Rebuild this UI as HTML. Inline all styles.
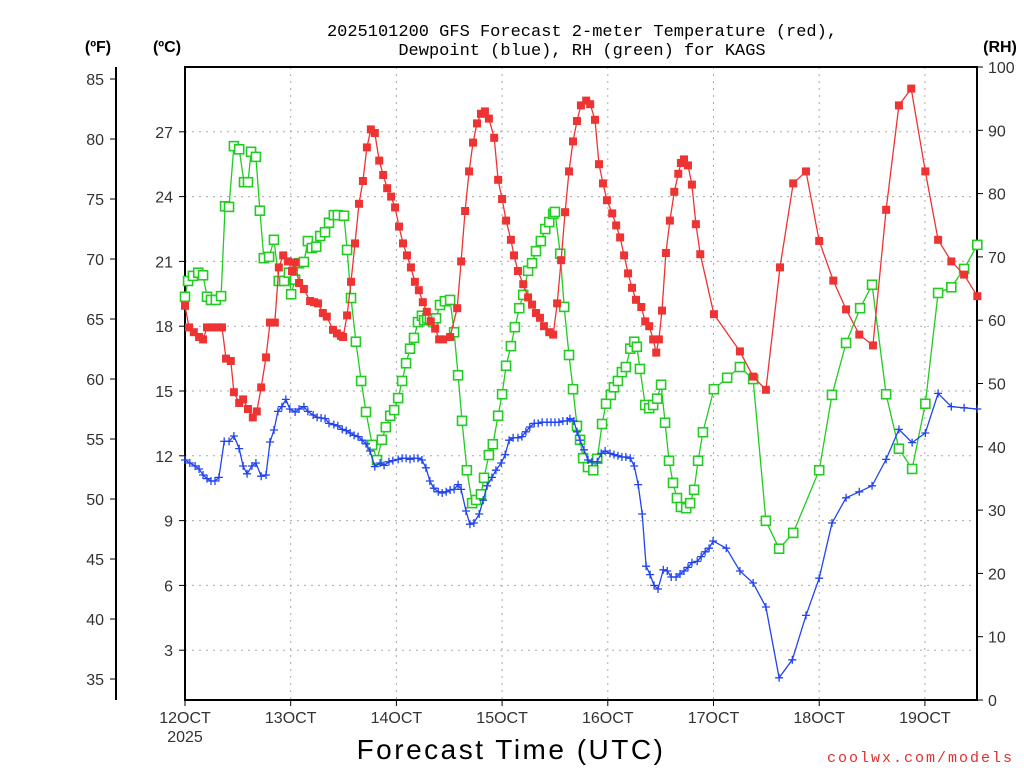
<!DOCTYPE html>
<html><head><meta charset="utf-8"><style>
html,body{margin:0;padding:0;background:#fff;}
svg{display:block;font-family:"Liberation Sans","DejaVu Sans",sans-serif;}
</style></head><body>
<svg id="chart" width="1024" height="768" viewBox="0 0 1024 768" xmlns="http://www.w3.org/2000/svg">
<rect width="1024" height="768" fill="#fff"/>
<text x="582" y="36" text-anchor="middle" font-size="17" fill="#000" font-family="Liberation Mono, monospace">2025101200 GFS Forecast 2-meter Temperature (red),</text>
<text x="582" y="55" text-anchor="middle" font-size="17" fill="#000" font-family="Liberation Mono, monospace">Dewpoint (blue), RH (green) for KAGS</text>
<text x="98" y="52" text-anchor="middle" font-size="16" font-weight="bold">(ºF)</text>
<text x="167" y="52" text-anchor="middle" font-size="16" font-weight="bold">(ºC)</text>
<text x="1000" y="52" text-anchor="middle" font-size="16" font-weight="bold">(RH)</text>
<text x="511" y="759" text-anchor="middle" font-size="28" letter-spacing="2.5">Forecast Time (UTC)</text>
<text x="1014" y="762" text-anchor="end" font-size="15" fill="#e03030" letter-spacing="2" font-family="Liberation Mono, monospace">coolwx.com/models</text>
<g id="grid"></g><g id="axes"></g><g id="series"></g>
</svg>
<script>
// ---- data ----
const days = ["12OCT","13OCT","14OCT","15OCT","16OCT","17OCT","18OCT","19OCT"];
const fTicks = [35,40,45,50,55,60,65,70,75,80,85];
const cTicks = [3,6,9,12,15,18,21,24,27];
const rhTicks = [0,10,20,30,40,50,60,70,80,90,100];
const tempHours = [0,0.9,2.0,3.2,4.1,5.0,6.4,7.5,8.4,9.3,10.4,11.1,12.3,13.2,14.3,15.4,16.3,17.3,18.4,19.3,20.4,21.3,22.3,23.4,24.3,25.0,25.9,27.0,28.4,29.3,30.2,31.3,32.2,33.6,34.5,35.4,35.9,36.8,37.7,38.6,39.5,40.4,41.3,42.2,43.1,44.1,45.0,45.9,46.8,47.7,48.6,49.5,50.4,51.3,52.2,53.1,54.0,54.9,55.8,56.8,57.7,58.6,60.2,61.8,62.7,63.6,64.5,65.4,66.3,67.2,68.1,69.0,70.2,71.1,72.0,72.9,74.0,74.7,75.6,76.8,77.9,78.8,79.7,80.6,81.5,82.7,83.6,84.5,85.4,86.3,87.2,88.1,89.0,89.9,91.1,92.0,93.1,94.0,94.9,95.8,97.0,97.9,98.8,99.7,100.6,101.5,102.4,103.6,104.5,105.4,106.3,107.0,107.6,108.3,109.2,110.1,111.1,112.0,112.6,113.3,114.2,115.1,116.0,117.0,120.1,126.0,129.0,131.9,135.1,138.1,141.0,144.0,147.2,150.1,153.1,156.2,159.2,162.1,164.9,168.1,171.0,174.0,176.9,179.9];
const tempF = [66.1,64.3,63.9,63.5,63.3,64.3,64.3,64.3,64.3,61.7,61.5,58.9,58.0,58.3,57.5,56.8,57.3,59.3,61.8,64.7,64.7,69.3,70.3,69.8,69.0,69.7,68.0,67.5,66.5,66.4,66.3,65.5,65.2,64.1,63.8,63.6,63.5,65.3,68.1,71.3,74.6,76.5,79.3,80.8,80.5,78.2,77.0,75.9,75.2,74.3,72.7,71.3,70.3,69.3,68.1,67.4,66.4,65.6,64.8,64.2,63.3,63.3,63.5,65.9,69.8,74.0,77.3,79.7,81.3,82.1,82.3,81.7,80.1,76.6,75.0,73.2,71.6,70.3,69.0,67.9,66.8,66.2,65.5,65.1,64.4,63.9,63.7,66.3,69.9,73.9,77.3,79.8,81.5,82.8,83.2,82.9,81.6,77.9,76.3,74.9,73.8,72.8,71.8,70.3,68.8,67.6,66.6,66.0,64.8,64.4,63.3,62.2,63.3,65.7,70.5,73.2,75.6,77.1,78.0,78.3,77.8,76.2,72.9,70.4,65.4,62.3,60.2,59.1,69.3,76.3,77.3,71.5,68.2,65.8,63.7,62.8,74.1,82.8,84.2,77.3,71.6,69.8,68.7,66.9];
const rhHours = [0,0.7,1.8,3.0,4.1,5.0,5.9,7.0,8.2,9.1,10.0,11.1,12.3,13.4,14.3,15.0,16.1,17.0,17.9,19.1,20.2,21.3,22.5,23.6,24.1,25.0,25.9,27.0,27.9,28.8,29.8,30.7,31.8,32.7,33.8,34.7,36.1,36.8,37.7,38.8,40.0,41.1,42.5,43.6,44.7,45.6,46.6,47.5,48.4,49.3,50.2,51.1,52.0,52.9,53.8,54.3,55.0,55.6,56.3,57.0,57.9,59.0,60.2,61.1,62.0,62.9,64.0,65.2,66.1,67.2,67.9,69.0,69.9,71.1,72.0,72.9,74.0,74.9,75.9,76.8,77.9,78.8,79.7,80.8,81.8,82.7,83.6,84.0,85.2,86.1,87.2,88.1,89.0,89.7,90.4,91.5,92.7,93.6,94.7,95.6,96.7,97.4,98.3,99.2,100.1,101.1,102.0,102.6,103.3,104.5,105.4,106.3,107.2,108.1,109.0,109.9,110.8,111.7,112.6,113.8,114.7,115.6,116.5,117.6,120.1,123.1,126.0,129.0,131.9,134.9,138.1,144.0,146.9,150.1,153.3,156.0,159.2,162.1,165.1,168.1,171.0,174.0,176.9,179.9];
const rhValues = [63.7,66.2,67.0,67.5,67.1,63.7,63.2,63.2,63.8,78.0,77.9,87.5,87.0,81.8,81.8,86.6,85.8,77.3,69.8,70.0,72.7,66.2,66.2,67.5,64.1,66.4,69.0,69.2,72.5,71.4,71.6,73.3,73.9,75.4,76.6,76.6,76.5,71.1,63.5,56.6,50.4,45.5,40.3,37.9,41.1,43.1,44.9,45.8,47.7,50.4,53.2,55.5,57.2,59.7,60.7,60.0,60.3,60.2,59.7,60.3,62.4,63.0,63.2,58.1,51.3,44.1,36.3,31.1,31.6,32.5,35.1,38.7,40.4,44.9,48.3,52.8,55.9,58.9,61.9,64.0,67.8,69.0,70.9,72.5,74.4,75.5,76.8,77.1,70.5,62.1,54.5,49.1,43.3,41.1,38.2,36.8,36.3,38.1,43.6,46.8,48.2,49.4,50.4,51.8,52.6,55.5,56.6,55.8,52.3,46.6,46.1,46.6,47.6,49.8,43.8,37.8,34.3,31.9,30.5,30.3,31.1,33.2,37.8,42.3,49.1,50.9,52.6,50.7,28.3,23.9,26.4,36.3,48.2,56.4,61.9,65.6,48.3,39.7,36.5,46.8,64.3,65.2,68.1,71.9];
const dewHours = [0,1.1,2.3,3.2,4.1,5.0,5.9,6.8,7.7,8.9,10.0,11.1,12.3,13.2,14.1,15.2,16.1,17.3,18.4,19.3,20.2,21.1,22.0,22.9,23.8,25.0,25.9,27.0,27.9,29.1,30.0,30.9,31.8,32.7,33.8,34.7,35.7,36.6,37.5,38.4,39.3,40.2,41.1,42.0,43.1,44.3,45.2,46.3,47.2,48.4,49.3,50.2,51.1,52.0,52.9,53.8,54.7,55.6,56.5,57.5,58.4,59.3,60.2,61.1,62.0,62.7,63.8,64.7,65.6,66.8,67.7,68.6,69.7,70.6,71.8,72.7,73.6,74.5,75.6,76.5,77.4,78.3,79.3,80.2,81.1,82.2,83.1,84.0,84.9,85.8,86.8,87.4,88.3,89.0,89.7,90.6,91.5,92.4,93.6,94.5,95.4,96.5,97.4,98.3,99.2,100.1,101.1,102.0,102.9,103.8,104.7,105.6,106.5,107.4,108.6,109.5,110.4,111.5,112.4,113.3,114.2,115.1,116.3,117.2,118.1,119.0,119.9,122.9,126.0,129.0,131.9,134.9,137.9,141.0,144.0,146.9,150.1,153.1,156.0,159.2,162.1,165.1,168.1,171.0,174.0,176.9,179.9];
const dewF = [53.25,53.0,52.75,52.5,52.0,51.7,51.5,51.5,51.8,54.8,54.8,55.25,54.2,52.75,52.1,52.75,53.0,51.9,52.0,54.75,55.75,57.3,57.7,58.3,57.5,57.25,57.5,57.7,57.3,57.0,56.8,56.75,56.7,56.3,56.2,56.1,55.8,55.7,55.5,55.3,55.2,54.9,54.6,54.0,52.7,53.0,52.8,53.1,53.2,53.3,53.4,53.4,53.3,53.4,53.4,53.25,52.6,51.5,50.9,50.6,50.5,50.6,50.75,50.8,51.2,50.8,49.0,47.9,48.0,48.75,49.9,51.1,51.8,52.4,53.0,53.7,54.9,55.1,55.1,55.2,55.6,56.0,56.3,56.3,56.4,56.4,56.4,56.4,56.4,56.5,56.5,56.7,56.5,55.6,54.9,54.1,53.25,53.1,53.1,53.8,54.0,53.8,53.7,53.6,53.5,53.5,53.4,52.75,51.2,48.75,44.4,43.7,42.8,42.5,44.1,44.0,43.5,43.5,43.75,44.0,44.3,44.7,44.8,45.2,45.6,45.9,46.5,45.9,44.0,43.0,41.0,35.1,36.6,40.3,43.4,48.0,50.1,50.6,51.1,53.3,55.8,54.7,55.5,58.8,57.7,57.6,57.5];

// ---- scales ----
const L=185,R=977,T=67,B=700;
const xS = h => L + h*(105.7/24);
const yF = f => 79 + (85-f)*12;
const yC = c => yF(c*9/5+32);
const yRH = r => B - r*(B-T)/100;
const NS="http://www.w3.org/2000/svg";
function mk(tag, attrs, parent){const e=document.createElementNS(NS,tag);for(const k in attrs)e.setAttribute(k,attrs[k]);parent.appendChild(e);return e;}
const grid=document.getElementById('grid'), axes=document.getElementById('axes'), ser=document.getElementById('series');

// grid
cTicks.forEach(c=>{const g=mk('line',{x1:L,x2:R,y1:yC(c),y2:yC(c),stroke:'#aaa','stroke-dasharray':'2,5'},grid);

});
days.forEach((d,i)=>{if(i===0)return;const g=mk('line',{x1:xS(i*24),x2:xS(i*24),y1:T,y2:B,stroke:'#aaa','stroke-dasharray':'2,5'},grid);

});

// frame
const fr=mk('rect',{x:L,y:T,width:R-L,height:B-T,fill:'none',stroke:'#000','stroke-width':2},axes);


const fa=mk('line',{x1:116,x2:116,y1:67,y2:B,stroke:'#000','stroke-width':2},axes);



fTicks.forEach(f=>{const y=yF(f);
const t=mk('line',{x1:110,x2:116,y1:y,y2:y,stroke:'#000'},axes);


const tx=mk('text',{x:104,y:y+6,'text-anchor':'end','font-size':16,fill:'#333'},axes);tx.textContent=f;

});
cTicks.forEach(c=>{const y=yC(c);
const t=mk('line',{x1:179,x2:185,y1:y,y2:y,stroke:'#000'},axes);


const tx=mk('text',{x:173,y:y+6,'text-anchor':'end','font-size':16,fill:'#333'},axes);tx.textContent=c;

});
rhTicks.forEach(r=>{const y=yRH(r);
const t=mk('line',{x1:R,x2:R+6,y1:y,y2:y,stroke:'#000'},axes);


const tx=mk('text',{x:988,y:y+6,'text-anchor':'start','font-size':16,fill:'#333'},axes);tx.textContent=r;

});
days.forEach((d,i)=>{const x=xS(i*24);
const t=mk('line',{x1:x,x2:x,y1:B,y2:B+6,stroke:'#000'},axes);


const tx=mk('text',{x:x,y:723,'text-anchor':'middle','font-size':16,fill:'#333'},axes);tx.textContent=d;

});
const yr=mk('text',{x:L,y:742,'text-anchor':'middle','font-size':16,fill:'#333'},axes);yr.textContent='2025';



function line(hs,vs,yfn,color,name){
  const d=hs.map((h,i)=>(i?'L':'M')+xS(h).toFixed(1)+','+yfn(vs[i]).toFixed(1)).join('');
  const p=mk('path',{d:d,fill:'none',stroke:color,'stroke-width':1.3},ser);
  
  
}
// RH
line(rhHours,rhValues,yRH,'#22cc22','rh-line');
rhHours.forEach((h,i)=>{const m=mk('rect',{x:xS(h)-4.5,y:yRH(rhValues[i])-4.5,width:9,height:9,fill:'#fff',stroke:'#22cc22','stroke-width':1.6},ser);

});
// Dewpoint
line(dewHours,dewF,yF,'#2244ee','dewpoint-line');
dewHours.forEach((h,i)=>{const x=xS(h),y=yF(dewF[i]);
const m=mk('path',{d:`M${x-4},${y}H${x+4}M${x},${y-4}V${y+4}`,stroke:'#2244ee','stroke-width':1.3},ser);

});
// Temperature
line(tempHours,tempF,yF,'#ee3333','temperature-line');
tempHours.forEach((h,i)=>{const m=mk('rect',{x:xS(h)-4,y:yF(tempF[i])-4,width:8,height:8,fill:'#ee3333'},ser);

});
</script>
</body></html>
